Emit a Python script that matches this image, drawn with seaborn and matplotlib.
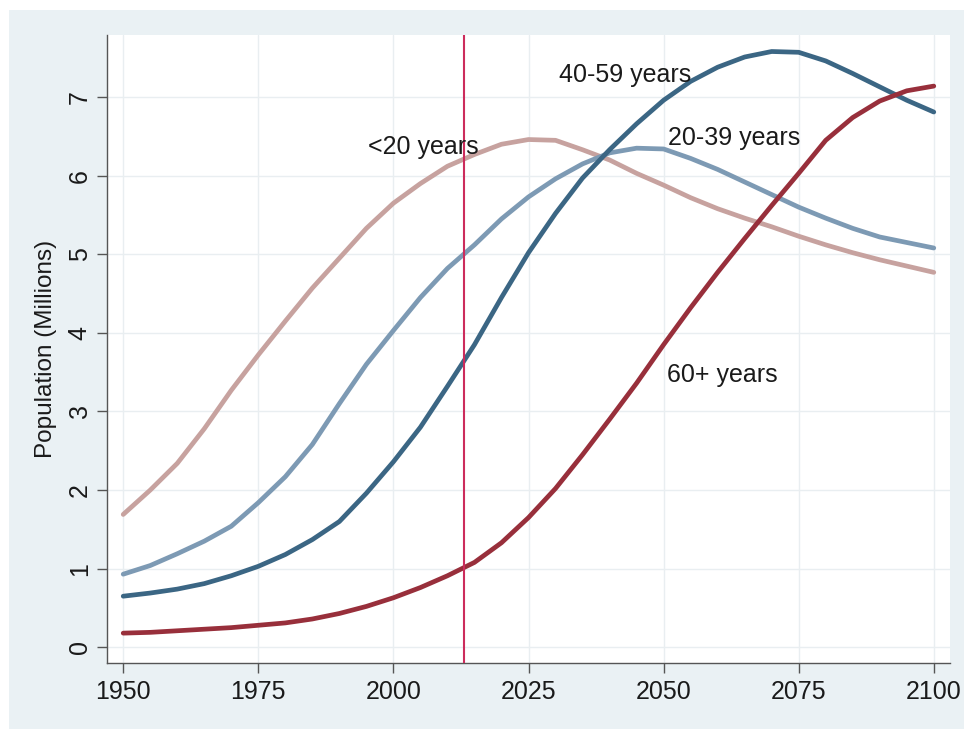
import pandas as pd
import seaborn as sns
import matplotlib.pyplot as plt
from matplotlib.patches import Rectangle

years = list(range(1950, 2101, 5))

under20 = [1.69, 2.00, 2.34, 2.78, 3.27, 3.72, 4.15, 4.57, 4.95, 5.33, 5.65,
           5.90, 6.12, 6.27, 6.40, 6.46, 6.45, 6.33, 6.20, 6.03, 5.88, 5.72,
           5.58, 5.46, 5.35, 5.23, 5.12, 5.02, 4.93, 4.85, 4.77]
age20_39 = [0.93, 1.04, 1.19, 1.35, 1.54, 1.84, 2.17, 2.58, 3.10, 3.60, 4.03,
            4.45, 4.82, 5.12, 5.45, 5.73, 5.96, 6.15, 6.29, 6.35, 6.34, 6.22,
            6.08, 5.92, 5.76, 5.60, 5.46, 5.33, 5.22, 5.15, 5.08]
age40_59 = [0.65, 0.69, 0.74, 0.81, 0.91, 1.03, 1.18, 1.37, 1.60, 1.96, 2.36,
            2.80, 3.32, 3.85, 4.45, 5.02, 5.52, 5.97, 6.33, 6.66, 6.96, 7.20,
            7.38, 7.51, 7.58, 7.57, 7.46, 7.30, 7.13, 6.96, 6.81]
age60plus = [0.18, 0.19, 0.21, 0.23, 0.25, 0.28, 0.31, 0.36, 0.43, 0.52, 0.63,
             0.76, 0.91, 1.08, 1.33, 1.65, 2.02, 2.45, 2.90, 3.36, 3.85, 4.32,
             4.77, 5.20, 5.62, 6.03, 6.45, 6.74, 6.95, 7.08, 7.14]

groups = ['<20 years', '20-39 years', '40-59 years', '60+ years']
colors = ['#c7a29f', '#7d9ab4', '#3b6684', '#982f3b']
label_x = [1995.3, 2050.8, 2030.6, 2050.6]
label_y = [6.37, 6.48, 7.28, 3.46]
cut_year = 2013

df = pd.DataFrame({'year': years * 4,
                   'pop': under20 + age20_39 + age40_59 + age60plus,
                   'group': [g for g in groups for _ in years]})

sns.set_theme(style='white')
plt.rcParams['font.family'] = ['Liberation Sans', 'DejaVu Sans']

fig = plt.figure(figsize=(9.64, 7.29), dpi=100, facecolor='white')
# Stata-like light background panel
fig.patches.append(Rectangle((9 / 964, 0), 1, 1 - 10 / 729, transform=fig.transFigure,
                             facecolor='#eaf1f4', edgecolor='none', zorder=-1))
ax = fig.add_axes([107 / 964, 66 / 729, 843 / 964, 628 / 729])
ax.set_facecolor('white')

sns.lineplot(data=df, x='year', y='pop', hue='group', palette=colors,
             hue_order=groups, linewidth=3.4, legend=False, ax=ax, zorder=3)

ax.axvline(cut_year, color='#cc2c5c', linewidth=1.5, zorder=4)

for g, lx, ly in zip(groups, label_x, label_y):
    ax.text(lx, ly, g, fontsize=18, color='#1a1a1a', va='center', ha='left', zorder=5)

ax.set_xlim(1947.0, 2103.0)
ax.set_ylim(-0.2, 7.79)
ax.set_xticks([1950, 1975, 2000, 2025, 2050, 2075, 2100])
ax.set_yticks(range(0, 8))
ax.grid(True, color='#e9eef1', linewidth=1.0)
ax.set_axisbelow(True)

for s in ['top', 'right']:
    ax.spines[s].set_visible(False)
for s in ['left', 'bottom']:
    ax.spines[s].set_color('#555555')
    ax.spines[s].set_linewidth(1.0)

ax.tick_params(axis='both', direction='out', length=7, width=1, color='#555555',
               labelsize=18, labelcolor='#1a1a1a', left=True, bottom=True)
ax.tick_params(axis='x', pad=5)
ax.tick_params(axis='y', pad=4)
plt.setp(ax.get_yticklabels(), rotation=90, va='center')

ax.set_xlabel('')
ax.set_ylabel('Population (Millions)', fontsize=17.5, color='#1a1a1a', labelpad=8)

fig.savefig('out.png', dpi=100, facecolor=fig.get_facecolor())
